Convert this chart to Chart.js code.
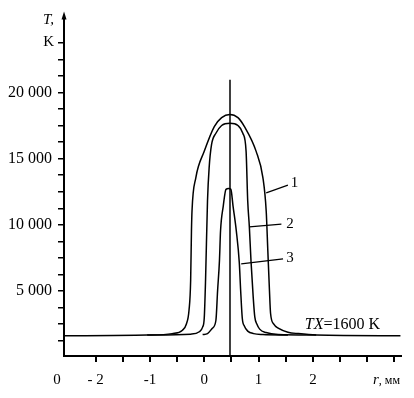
<!DOCTYPE html>
<html>
<head>
<meta charset="utf-8">
<script src="https://cdn.jsdelivr.net/npm/chart.js@4/dist/chart.umd.min.js"></script>
<style>
  html, body { margin: 0; padding: 0; background: #fff; }
</style>
</head>
<body>
<canvas id="tempChart" width="414" height="398"></canvas>
<script>
// --- Data (r in mm, T in K) ---
const curve1R = [-2.58, -1.05, -0.59, -0.40, -0.33, -0.28, -0.25, -0.235, -0.225, -0.155, 0.0, 0.185, 0.32, 0.47, 0.62, 0.74, 0.955, 1.08, 1.14, 1.17, 1.20, 1.22, 1.28, 1.36, 1.54, 1.73, 2.06, 3.61];
const curve1T = [1630, 1680, 1790, 2050, 2500, 3550, 5800, 9550, 11050, 13550, 15550, 17420, 18100, 18340, 18100, 17420, 15550, 13550, 11050, 8050, 5050, 3330, 2500, 2200, 1900, 1790, 1680, 1630];

const curve2R = [-1.05, -0.25, -0.09, -0.03, 0.0, 0.024, 0.06, 0.09, 0.135, 0.215, 0.32, 0.474, 0.62, 0.71, 0.77, 0.80, 0.83, 0.86, 0.90, 0.93, 0.97, 1.02, 1.135, 1.36, 2.06];
const curve2T = [1680, 1750, 1930, 2280, 2950, 5800, 11800, 14300, 16070, 16920, 17500, 17670, 17500, 16920, 15550, 11800, 9850, 7300, 4600, 3050, 2500, 2130, 1870, 1720, 1680];

const curve3R = [-0.03, 0.06, 0.15, 0.215, 0.246, 0.28, 0.30, 0.35, 0.40, 0.45, 0.49, 0.53, 0.59, 0.645, 0.67, 0.70, 0.74, 0.80, 0.91, 1.08, 1.54];
const curve3T = [1720, 1790, 2200, 2800, 5050, 7300, 9550, 11420, 12680, 12740, 12680, 11420, 9550, 7150, 5050, 2950, 2350, 1980, 1790, 1720, 1680];

// vertical marker line and label leaders
const markerR = [0.474, 0.474];
const markerT = [20950, 100];
const leader1R = [1.14, 1.54];
const leader1T = [12420, 13000];
const leader2R = [0.83, 1.42];
const leader2T = [9850, 10050];
const leader3R = [0.68, 1.45];
const leader3T = [7050, 7430];

// curve numbers and their anchors (data units)
const curveNames = ['1', '2', '3'];
const curveNameR = [1.66, 1.58, 1.58];
const curveNameT = [13150, 10090, 7510];
const ambientR = 1.85;
const ambientT = 2430;

// --- Axes ---
const rMin = -2.58, rMax = 3.62;
const rTicks = [-2, -1.5, -1, -0.5, 0, 0.5, 1, 1.5, 2, 2.5, 3, 3.5];
const rTickLabels = ['- 2', '', '-1', '', '0', '', '1', '', '2', '', '', ''];
const tMin = 100, tMax = 25800;
const tTicks = [1250, 2500, 3750, 5000, 6250, 7500, 8750, 10000, 11250, 12500, 13750, 15000, 16250, 17500, 18750, 20000, 21250, 22500, 23750];
const tTickLabels = ['', '', '', '5 000', '', '', '', '10 000', '', '', '', '15 000', '', '', '', '20 000', '', '', ''];

const SERIF = "'Liberation Serif', 'Times New Roman', serif";
const pairs = (xs, ys) => xs.map((x, i) => ({ x, y: ys[i] }));
const lineSet = (xs, ys, w, smooth) => ({
  data: pairs(xs, ys),
  borderColor: '#000',
  borderWidth: w,
  pointRadius: 0,
  fill: false,
  cubicInterpolationMode: smooth ? 'monotone' : 'default',
  tension: 0
});
const tickLabel = (values, labels) => v => {
  const i = values.findIndex(t => Math.abs(t - v) < 1e-6);
  return i < 0 ? '' : labels[i];
};

// --- Axis names, arrow and curve labels ---
const notes = {
  id: 'notes',
  afterDraw(chart) {
    const { ctx, chartArea: a, scales: { x, y } } = chart;
    ctx.save();
    ctx.fillStyle = '#000';

    // arrow head on the T axis
    ctx.beginPath();
    ctx.moveTo(a.left, a.top - 4);
    ctx.lineTo(a.left - 2.5, a.top + 4);
    ctx.lineTo(a.left + 2.5, a.top + 4);
    ctx.closePath();
    ctx.fill();

    ctx.textBaseline = 'middle';
    ctx.textAlign = 'right';
    ctx.font = 'italic 15px ' + SERIF;
    ctx.fillText('T,', a.left - 10, 20);
    ctx.font = '15px ' + SERIF;
    ctx.fillText('K', a.left - 10, 42);

    // zero at the origin
    ctx.textAlign = 'center';
    ctx.fillText('0', a.left - 7, 380);

    // r, мм
    ctx.textAlign = 'left';
    ctx.font = 'italic 15px ' + SERIF;
    ctx.fillText('r', 373, 380);
    let w = ctx.measureText('r').width;
    ctx.font = '12px ' + SERIF;
    ctx.fillText(', мм', 373 + w, 381);

    // curve numbers
    ctx.textAlign = 'center';
    ctx.font = '15px ' + SERIF;
    curveNames.forEach((n, i) => {
      ctx.fillText(n, x.getPixelForValue(curveNameR[i]), y.getPixelForValue(curveNameT[i]));
    });

    // ambient temperature note
    ctx.textAlign = 'left';
    const ax = x.getPixelForValue(ambientR);
    const ay = y.getPixelForValue(ambientT);
    ctx.font = 'italic 16px ' + SERIF;
    ctx.fillText('TX', ax, ay);
    w = ctx.measureText('TX').width;
    ctx.font = '16px ' + SERIF;
    ctx.fillText('=1600 K', ax + w, ay);

    ctx.restore();
  }
};

const tempChart = new Chart(document.getElementById('tempChart'), {
  type: 'line',
  data: {
    datasets: [
      lineSet(curve1R, curve1T, 1.5, true),
      lineSet(curve2R, curve2T, 1.5, true),
      lineSet(curve3R, curve3T, 1.5, true),
      lineSet(markerR, markerT, 1.5, false),
      lineSet(leader1R, leader1T, 1.2, false),
      lineSet(leader2R, leader2T, 1.2, false),
      lineSet(leader3R, leader3T, 1.2, false)
    ]
  },
  options: {
    responsive: false,
    animation: false,
    devicePixelRatio: 1,
    layout: { padding: { top: 13, right: 13, left: 0, bottom: 0 } },
    plugins: { legend: { display: false }, tooltip: { enabled: false } },
    scales: {
      x: {
        type: 'linear',
        min: rMin,
        max: rMax,
        afterBuildTicks: s => { s.ticks = rTicks.map(value => ({ value })); },
        afterFit: s => { s.height = 42; },
        ticks: {
          autoSkip: false,
          maxRotation: 0,
          padding: 9,
          color: '#000',
          font: { family: SERIF, size: 15 },
          callback: tickLabel(rTicks, rTickLabels)
        },
        grid: { drawOnChartArea: false, tickLength: 6, color: '#000', lineWidth: 2 },
        border: { color: '#000', width: 2 }
      },
      y: {
        min: tMin,
        max: tMax,
        afterBuildTicks: s => { s.ticks = tTicks.map(value => ({ value })); },
        afterFit: s => { s.width = 64; },
        ticks: {
          autoSkip: false,
          padding: 6,
          color: '#000',
          font: { family: SERIF, size: 16 },
          callback: tickLabel(tTicks, tTickLabels)
        },
        grid: { drawOnChartArea: false, tickLength: 6, color: '#000', lineWidth: 1.5 },
        border: { color: '#000', width: 2 }
      }
    }
  },
  plugins: [notes]
});
</script>
</body>
</html>
